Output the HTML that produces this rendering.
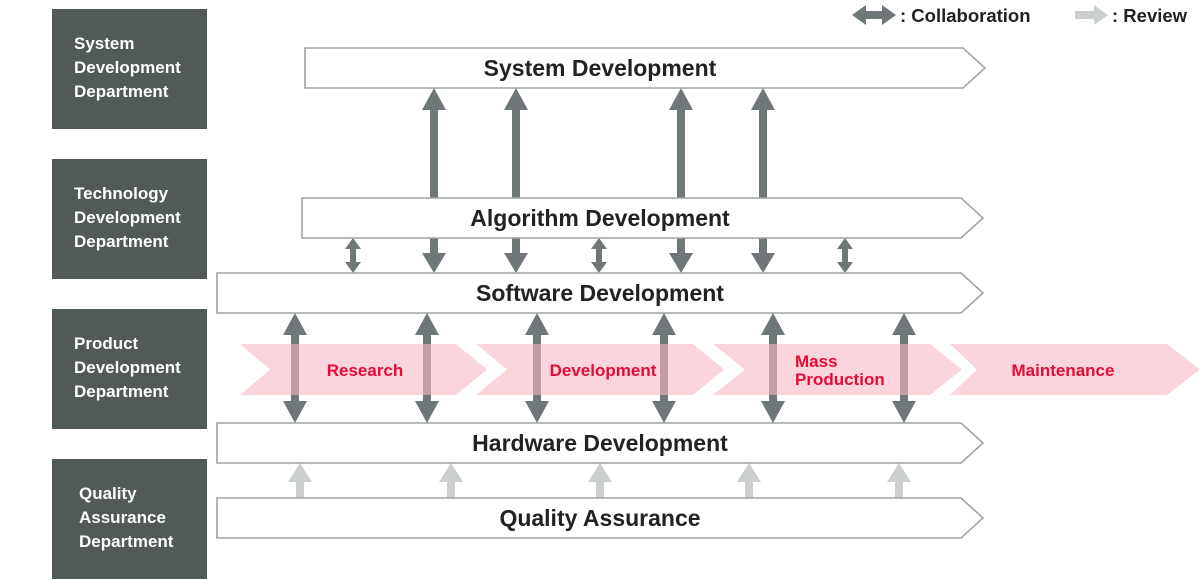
<!DOCTYPE html>
<html><head><meta charset="utf-8"><style>
html,body{margin:0;padding:0;background:#fff;}
svg{display:block;font-family:"Liberation Sans",sans-serif;font-weight:bold;}
</style></head><body>
<svg width="1200" height="580" viewBox="0 0 1200 580" xmlns="http://www.w3.org/2000/svg">
<defs>
<g id="sa"><polygon points="0,88 12,110 4,110 4,200 -4,200 -4,110 -12,110"/><polygon points="-4,236 4,236 4,253 12,253 0,273 -12,253 -4,253"/></g>
<g id="sm"><polygon points="0,238 8,249 3,249 3,262 8,262 0,273 -8,262 -3,262 -3,249 -8,249"/></g>
<g id="sh"><polygon points="0,313 12,335 4,335 4,401 12,401 0,423 -12,401 -4,401 -4,335 -12,335"/></g>
<g id="rv"><polygon points="0,463 12,482 4,482 4,499 -4,499 -4,482 -12,482"/></g>
</defs>
<!-- left boxes -->
<g fill="#525959">
<rect x="52" y="9" width="155" height="120"/>
<rect x="52" y="159" width="155" height="120"/>
<rect x="52" y="309" width="155" height="120"/>
<rect x="52" y="459" width="155" height="120"/>
</g>
<g fill="#fff" font-size="17">
<text x="74" y="49">System</text><text x="74" y="73">Development</text><text x="74" y="97">Department</text>
<text x="74" y="199">Technology</text><text x="74" y="223">Development</text><text x="74" y="247">Department</text>
<text x="74" y="349">Product</text><text x="74" y="373">Development</text><text x="74" y="397">Department</text>
<text x="79" y="499">Quality</text><text x="79" y="523">Assurance</text><text x="79" y="547">Department</text>
</g>
<!-- legend -->
<polygon points="852,15 866,5 866,11 882,11 882,5 896,15 882,25 882,19 866,19 866,25" fill="#6f7778"/>
<text x="900" y="22" font-size="18.5" fill="#222">: Collaboration</text>
<polygon points="1075,11 1094,11 1094,5 1108,15 1094,25 1094,19 1075,19" fill="#cbcfce"/>
<text x="1112" y="22" font-size="18.5" fill="#222">:  Review</text>
<!-- arrows -->
<g fill="#6f7778">
<use href="#sa" x="434"/><use href="#sa" x="516"/><use href="#sa" x="681"/><use href="#sa" x="763"/>
<use href="#sm" x="353"/><use href="#sm" x="599"/><use href="#sm" x="845"/>
<use href="#sh" x="295"/><use href="#sh" x="427"/><use href="#sh" x="537"/><use href="#sh" x="664"/><use href="#sh" x="773"/><use href="#sh" x="904"/>
</g>
<g fill="#cbcfce">
<use href="#rv" x="300"/><use href="#rv" x="451"/><use href="#rv" x="600"/><use href="#rv" x="749"/><use href="#rv" x="899"/>
</g>
<!-- pink chevrons -->
<g fill="rgba(246,185,196,0.6)">
<polygon points="240,344 456,344 487,369.5 456,395 240,395 270,369.5"/>
<polygon points="476,344 693,344 724,369.5 693,395 476,395 507,369.5"/>
<polygon points="713,344 930,344 962,369.5 930,395 713,395 745,369.5"/>
<polygon points="950,344 1167,344 1200,369.5 1167,395 950,395 977,369.5"/>
</g>
<g fill="#e50b36" font-size="17">
<text x="365" y="376" text-anchor="middle">Research</text>
<text x="603" y="376" text-anchor="middle">Development</text>
<text x="795" y="367">Mass</text><text x="795" y="385">Production</text>
<text x="1063" y="376" text-anchor="middle">Maintenance</text>
</g>
<!-- bars -->
<g fill="#fff" stroke="#9fa3a3" stroke-width="1.6">
<polygon points="305,48 963,48 985,68 963,88 305,88"/>
<polygon points="302,198 961,198 983,218 961,238 302,238"/>
<polygon points="217,273 961,273 983,293 961,313 217,313"/>
<polygon points="217,423 961,423 983,443 961,463 217,463"/>
<polygon points="217,498 961,498 983,518 961,538 217,538"/>
</g>
<g fill="#222" font-size="23" text-anchor="middle">
<text x="600" y="76">System Development</text>
<text x="600" y="226">Algorithm Development</text>
<text x="600" y="301">Software Development</text>
<text x="600" y="451">Hardware Development</text>
<text x="600" y="526">Quality Assurance</text>
</g>
</svg>
</body></html>
